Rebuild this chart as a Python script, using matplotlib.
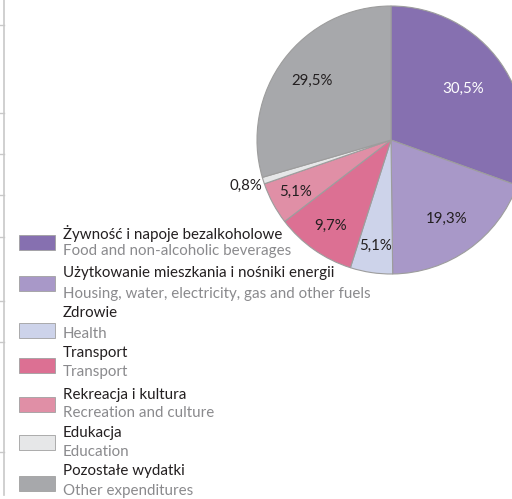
# Household expenditure structure (pie + two-language legend)

import numpy as np
from matplotlib import pyplot as plt
from matplotlib.patches import Rectangle
from matplotlib.lines import Line2D

W, H = 512, 499

labels_pl = [
    "Żywność i napoje bezalkoholowe",
    "Użytkowanie mieszkania i nośniki energii",
    "Zdrowie",
    "Transport",
    "Rekreacja i kultura",
    "Edukacja",
    "Pozostałe wydatki",
]
labels_en = [
    "Food and non-alcoholic beverages",
    "Housing, water, electricity, gas and other fuels",
    "Health",
    "Transport",
    "Recreation and culture",
    "Education",
    "Other expenditures",
]
shares = [30.5, 19.3, 5.1, 9.7, 5.1, 0.8, 29.5]

colors = ["#8670b0", "#a898c8", "#cdd3ea", "#dc7093", "#e08fa6", "#e6e7e8", "#a7a8ab"]
pct_colors = ["white", "#231f20", "#231f20", "#231f20", "#231f20", "#231f20", "#231f20"]
pct_dist = [0.66, 0.72, 0.80, 0.78, 0.81, 1.14, 0.74]

FONT = "Lato"


def fx(px):
    return px / W


def fy(py):
    return 1 - py / H


fig = plt.figure(figsize=(W / 100, H / 100), dpi=100)

# pie, centre (391, 140), radius 134 px
cx, cy, r = 391, 140, 134
ax = fig.add_axes([fx(cx - r), fy(cy + r), 2 * r / W, 2 * r / H])
wedges, _ = ax.pie(
    shares,
    colors=colors,
    startangle=90,
    counterclock=False,
    radius=1,
    wedgeprops=dict(edgecolor="#9d9d9d", linewidth=0.8),
)
ax.set_xlim(-1, 1)
ax.set_ylim(-1, 1)
ax.axis("off")

for w, v, c, d in zip(wedges, shares, pct_colors, pct_dist):
    ang = np.deg2rad((w.theta1 + w.theta2) / 2)
    ax.text(
        d * np.cos(ang),
        d * np.sin(ang),
        f"{v:.1f}".replace(".", ",") + "%",
        ha="center",
        va="center",
        fontsize=10.8,
        family=FONT,
        color=c,
        clip_on=False,
    )

# legend
patch_top = [235, 276, 323, 358, 397, 435, 476]
pl_y = [233, 273, 313, 353, 395, 433, 471]
en_y = [251, 294, 334, 372, 413, 452, 491]
for i in range(len(labels_pl)):
    fig.patches.append(
        Rectangle(
            (fx(19), fy(patch_top[i] + 15)),
            36 / W,
            15 / H,
            transform=fig.transFigure,
            facecolor=colors[i],
            edgecolor="#a0a0a0",
            linewidth=0.6,
        )
    )
    fig.text(fx(63), fy(pl_y[i]), labels_pl[i], va="center", ha="left",
             fontsize=10.9, family=FONT, color="#231f20")
    fig.text(fx(63), fy(en_y[i]), labels_en[i], va="center", ha="left",
             fontsize=10.9, family=FONT, color="#8a8a8d")

# remnants of the frame on the left
fig.lines.append(Line2D([fx(4), fx(4)], [fy(0), fy(495)], transform=fig.transFigure,
                        color="#c8c8c8", linewidth=1.2))
for t in [25, 113, 154, 195, 237, 301, 342, 452]:
    fig.lines.append(Line2D([fx(0), fx(4)], [fy(t), fy(t)], transform=fig.transFigure,
                            color="#c8c8c8", linewidth=1.0))

fig.savefig("out.png", dpi=100)
